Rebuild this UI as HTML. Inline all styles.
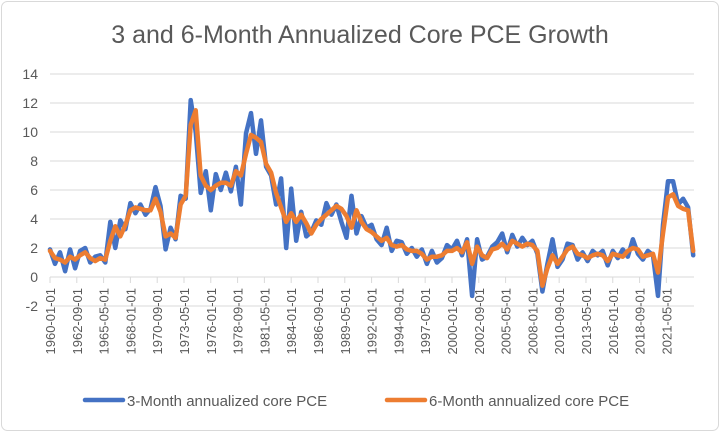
<!DOCTYPE html>
<html><head><meta charset="utf-8"><style>
body{margin:0;background:#fff;}
svg{display:block;font-family:"Liberation Sans",sans-serif;}
</style></head><body>
<svg id="chart" width="720" height="432">
<rect x="1.5" y="1.5" width="717" height="429" rx="6" fill="#fff" stroke="#d9d9d9"/>
<text x="360" y="43" text-anchor="middle" font-size="25" fill="#595959">3 and 6-Month Annualized Core PCE Growth</text>
<g id="grid"></g><g id="axes"></g><g id="series"></g>
<g>
<line x1="85" y1="400" x2="123" y2="400" stroke="#4472C4" stroke-width="4.5" stroke-linecap="round"/>
<text x="127" y="406" font-size="15" fill="#595959">3-Month annualized core PCE</text>
<line x1="387" y1="400" x2="425" y2="400" stroke="#ED7D31" stroke-width="4.5" stroke-linecap="round"/>
<text x="429" y="406" font-size="15" fill="#595959">6-Month annualized core PCE</text>
</g>
</svg>
<script>
// semiannual samples, 1960-01 .. 2024-01
const tickLabels=["1960-01-01","1962-09-01","1965-05-01","1968-01-01","1970-09-01","1973-05-01","1976-01-01","1978-09-01","1981-05-01","1984-01-01","1986-09-01","1989-05-01","1992-01-01","1994-09-01","1997-05-01","2000-01-01","2002-09-01","2005-05-01","2008-01-01","2010-09-01","2013-05-01","2016-01-01","2018-09-01","2021-05-01"];
const yTicks=[-2,0,2,4,6,8,10,12,14];
const sixMonth=[1.8,1.3,1.2,1.0,1.4,1.2,1.5,1.7,1.3,1.1,1.3,1.2,2.5,3.5,2.8,3.6,4.6,4.8,4.7,4.6,4.6,5.4,4.5,2.8,3.0,2.7,5.0,5.6,10.5,11.5,7.0,6.3,6.0,6.3,6.5,6.5,6.3,7.3,7.0,8.5,9.8,9.6,9.3,7.8,7.2,5.8,4.8,3.8,4.4,3.8,4.3,3.7,3.0,3.6,4.0,4.3,4.6,4.9,4.7,4.2,3.4,4.6,3.8,3.3,3.1,2.8,2.5,2.7,2.2,2.1,2.2,1.9,1.8,1.8,1.6,1.2,1.4,1.4,1.5,1.8,1.8,2.0,1.7,2.4,0.9,2.1,1.5,1.3,1.9,2.0,2.3,1.9,2.5,2.3,2.1,2.3,2.2,1.8,-0.6,0.6,1.5,0.9,1.4,1.9,2.1,1.6,1.5,1.3,1.5,1.6,1.5,1.1,1.6,1.5,1.4,1.8,2.0,1.9,1.4,1.5,1.6,0.3,3.0,5.5,5.7,4.9,4.7,4.6,1.8];
const threeMonth=[1.9,0.9,1.7,0.4,1.9,0.6,1.8,2.0,1.0,1.4,1.5,1.0,3.8,2.0,3.9,3.3,5.1,4.4,5.0,4.3,4.7,6.2,4.9,1.9,3.4,2.6,5.6,5.4,12.2,10.0,5.8,7.3,4.6,7.1,6.0,7.2,5.9,7.6,5.0,9.9,11.3,8.5,10.8,7.6,7.0,5.0,6.8,2.0,6.1,2.5,4.5,2.8,3.1,3.9,3.6,5.1,4.3,5.0,3.8,2.7,5.6,3.0,4.2,3.4,3.6,2.6,2.2,3.4,1.8,2.5,2.4,1.6,2.0,1.4,1.9,0.9,1.8,1.0,1.3,2.2,1.9,2.5,1.5,2.6,-1.3,2.6,1.2,1.4,2.1,2.4,3.0,1.7,2.9,2.1,2.7,2.2,2.5,1.6,-1.0,0.9,2.6,0.7,1.2,2.3,2.2,1.2,1.7,1.1,1.8,1.5,1.8,0.8,1.8,1.3,1.9,1.4,2.6,1.6,1.2,1.8,1.5,-1.3,3.6,6.6,6.6,5.0,5.4,4.8,1.5];
const X0=50,X1=694,Y0=277,PXU=14.5;
const stepMonths=6,totalMonths=769;
function xMonth(m){return X0+(X1-X0)*m/totalMonths;}
function yVal(v){return Y0-v*PXU;}
const NS="http://www.w3.org/2000/svg";
function mk(tag,attrs,parent){const e=document.createElementNS(NS,tag);for(const k in attrs)e.setAttribute(k,attrs[k]);parent.appendChild(e);return e;}
const grid=document.getElementById('grid'),axes=document.getElementById('axes'),ser=document.getElementById('series');
yTicks.forEach(v=>{
  if(v!==0){const l=mk('line',{x1:X0,x2:X1,y1:yVal(v),y2:yVal(v),stroke:'#d9d9d9','stroke-width':1},grid);
  
  }
  const t=mk('text',{x:38,y:yVal(v)+5,'text-anchor':'end','font-size':14,fill:'#595959'},axes);
  t.textContent=v;
  
  
});
const ax=mk('line',{x1:X0,x2:X1,y1:Y0,y2:Y0,stroke:'#d9d9d9','stroke-width':1},axes);


tickLabels.forEach((lab,i)=>{
  const x=xMonth(i*32);
  const tk=mk('line',{x1:x,x2:x,y1:Y0,y2:Y0+6,stroke:'#d9d9d9'},axes);
  
  
  const t=mk('text',{x:0,y:0,'text-anchor':'end','font-size':13,fill:'#595959',transform:`translate(${x+5},${Y0+11}) rotate(-90)`},axes);
  t.textContent=lab;
  
  
});
function drawLine(vals,color,name,w){
  const d=vals.map((v,i)=>(i?'L':'M')+xMonth(Math.min(i*stepMonths,totalMonths)).toFixed(1)+','+yVal(v).toFixed(1)).join('');
  const p=mk('path',{d:d,fill:'none',stroke:color,'stroke-width':w,'stroke-linejoin':'round','stroke-linecap':'round'},ser);
  
  
}
drawLine(threeMonth,'#4472C4','series-3-month',4.5);
drawLine(sixMonth,'#ED7D31','series-6-month',4.5);
</script>
</body></html>
